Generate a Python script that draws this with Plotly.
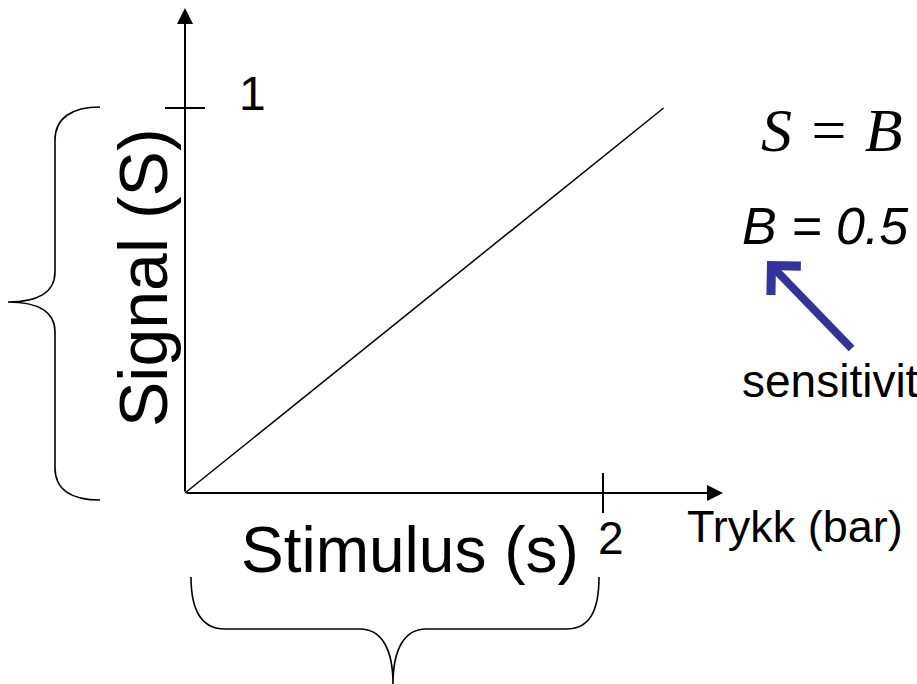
import plotly.graph_objects as go

# ---- data ----
stimulus = [0.0, 2.29]      # Trykk (bar)
signal = [0.0, 1.0]         # Signal (S)
x_tick_vals = [2]
x_tick_text = ["2"]
y_tick_vals = [1]
y_tick_text = ["1"]

W, H = 917, 684
# pixel geometry of the drawing
OX, OY = 185, 493          # origin pixel
PX_PER_X = 209.0           # pixels per x unit
PX_PER_Y = 385.0           # pixels per y unit


def px2x(px):
    return (px - OX) / PX_PER_X


def px2y(py):
    return (OY - py) / PX_PER_Y


def path(cmds):
    out = []
    for c in cmds:
        if isinstance(c, str):
            out.append(c)
        else:
            out.append(f"{px2x(c[0]):.5f},{px2y(c[1]):.5f}")
    return " ".join(out)


fig = go.Figure()
fig.add_trace(go.Scatter(x=stimulus, y=signal, mode="lines",
                         line=dict(color="black", width=1.5),
                         hoverinfo="skip", showlegend=False))

black = "black"
shapes = []
# ticks
for xv in x_tick_vals:
    shapes.append(dict(type="line", xref="x", yref="y", x0=xv, x1=xv,
                       y0=px2y(473), y1=px2y(513), line=dict(color=black, width=2)))
for yv in y_tick_vals:
    shapes.append(dict(type="line", xref="x", yref="y", y0=yv, y1=yv,
                       x0=px2x(165), x1=px2x(205), line=dict(color=black, width=2)))

# left brace
left_brace = path(["M", (100, 107), "C", (72, 107), (55, 118), (55, 140),
                   "L", (55, 272), "C", (55, 292), (38, 302), (8, 302),
                   "C", (38, 302), (55, 312), (55, 332),
                   "L", (55, 468), "C", (55, 490), (72, 500), (100, 500)])
bottom_brace = path(["M", (191, 577), "C", (191, 612), (202, 629), (225, 629),
                     "L", (360, 629), "C", (382, 629), (393, 650), (393, 684),
                     "C", (393, 650), (404, 629), (426, 629),
                     "L", (566, 629), "C", (589, 629), (599, 612), (599, 577)])
for p in (left_brace, bottom_brace):
    shapes.append(dict(type="path", xref="x", yref="y", path=p,
                       line=dict(color=black, width=1.6)))

annotations = []
# axis arrows
annotations.append(dict(x=px2x(723), y=0, ax=0, ay=0, xref="x", yref="y",
                        axref="x", ayref="y", text="", showarrow=True,
                        arrowhead=2, arrowwidth=2, arrowsize=1.6, arrowcolor=black,
                        standoff=0, startstandoff=0))
annotations.append(dict(x=0, y=px2y(8), ax=0, ay=0, xref="x", yref="y",
                        axref="x", ayref="y", text="", showarrow=True,
                        arrowhead=2, arrowwidth=2, arrowsize=1.6, arrowcolor=black,
                        standoff=0, startstandoff=0))
# blue sensitivity arrow
annotations.append(dict(x=px2x(767), y=px2y(261), ax=px2x(853), ay=px2y(350),
                        xref="x", yref="y", axref="x", ayref="y", text="",
                        showarrow=True, arrowhead=4, arrowwidth=8, arrowsize=1.0,
                        arrowcolor="#333399", standoff=0))

sans = "Liberation Sans, Arial, sans-serif"
serif = "Liberation Serif, Times New Roman, serif"


def txt(text, px, py, size, family=sans, xanchor="center", angle=0, italic=False):
    annotations.append(dict(text=text, x=px2x(px), y=px2y(py), xref="x", yref="y",
                            showarrow=False, xanchor=xanchor, yanchor="middle",
                            textangle=angle,
                            font=dict(family=family, size=size, color=black,
                                      style="italic" if italic else "normal")))


txt(y_tick_text[0], 252, 93, 48)
txt(x_tick_text[0], 611, 538, 46)
txt("Trykk (bar)", 685, 526, 45, xanchor="left")
txt("Stimulus (s)", 410, 550, 64)
txt("Signal (S)", 143, 278, 68, angle=-90)
txt("S = B", 832, 130, 62, family=serif, italic=True)
txt("B = 0.5", 740, 226, 52, xanchor="left", italic=True)
txt("sensitivity", 740, 381, 46, xanchor="left")

fig.update_layout(
    width=W, height=H,
    margin=dict(l=0, r=0, t=0, b=0),
    paper_bgcolor="white", plot_bgcolor="white",
    xaxis=dict(range=[px2x(0), px2x(W)], visible=False, fixedrange=True),
    yaxis=dict(range=[px2y(H), px2y(0)], visible=False, fixedrange=True),
    shapes=shapes, annotations=annotations, showlegend=False,
)

fig.write_html("out.html", config={"displayModeBar": False},
               post_script="document.body.style.margin='0';document.body.style.overflow='hidden';")
